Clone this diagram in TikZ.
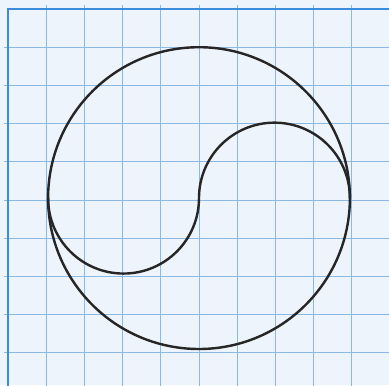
\documentclass[tikz,border=0pt]{standalone}
\definecolor{paper}{RGB}{238,244,251}
\definecolor{gridblue}{RGB}{140,185,225}
\definecolor{edgeblue}{RGB}{60,140,220}
\begin{document}
\begin{tikzpicture}[x=1cm,y=1cm,
  gridline/.style={draw=gridblue,line width=0.7pt},
  edgeline/.style={draw=edgeblue,line width=1.6pt},
  ink/.style={draw=black!85,line width=1.8pt}]
\useasboundingbox (-0.209,0.236) rectangle (9.974,-9.843);
\fill[paper] (-0.209,0.236) rectangle (9.974,-9.843);
\foreach \i in {1,...,10} {
  \draw[gridline] (\i,0.1) -- (\i,-10.5);
  \draw[gridline] (-0.1,-\i) -- (10.5,-\i);
}
\draw[edgeline] (0,-10.5) -- (0,0) -- (10.5,0);
\draw[ink] (5,-4.95) circle[radius=3.95];
\draw[ink] (1.05,-4.95) arc[start angle=180,end angle=360,radius=1.975]
  arc[start angle=180,end angle=0,radius=1.975];
\end{tikzpicture}
\end{document}
